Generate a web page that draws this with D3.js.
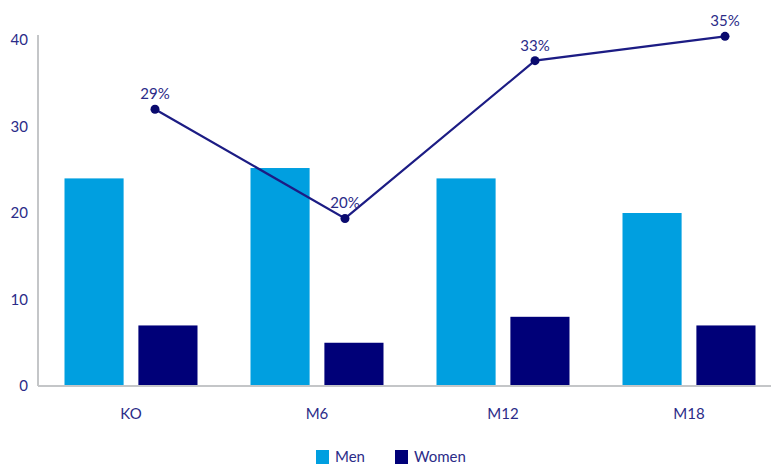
<!DOCTYPE html>
<html><head><meta charset="utf-8">
<script src="https://cdn.jsdelivr.net/npm/d3@7"></script>
<style>body{margin:0;background:#fff;}svg{display:block;font-family:Lato,"Open Sans",sans-serif;}</style>
</head><body><svg id="c" width="771" height="467"></svg>
<script>
const categories = ["KO", "M6", "M12", "M18"];
const menValues = [24, 25.2, 24, 20];
const womenValues = [7, 5, 8, 7];
const pctValues = [29, 20, 33, 35];
const yTicks = [0, 10, 20, 30, 40];
const seriesNames = ["Men", "Women"];
const colors = {Men: "#009fe0", Women: "#000078"};
const textColor = "#2b2b88";

const svg = d3.select("#c");
const x = d3.scaleBand().domain(categories).range([38, 782]).paddingInner(0).paddingOuter(0);
const xs = d3.scaleBand().domain(seriesNames).range([26.5, 186 - 26.5]).paddingInner(0.2);
const y = d3.scaleLinear().domain([0, 40]).range([386, 40]);
const y2 = d3.scaleLinear().domain([6.2, 34.7]).range([386, 40]);
const xl = d3.scaleBand().domain(categories).range([60, 820]);

const data = categories.map((c, i) => ({c, Men: menValues[i], Women: womenValues[i], pct: pctValues[i]}));

// bars
const g = svg.append("g");
data.forEach(d => {
  seriesNames.forEach(s => {
    g.append("rect")
      .attr("x", x(d.c) + xs(s))
      .attr("y", y(d[s]))
      .attr("width", xs.bandwidth())
      .attr("height", y(0) - y(d[s]))
      .attr("fill", colors[s]);
  });
});

// axes
svg.append("line").attr("x1", 38).attr("x2", 38).attr("y1", 35).attr("y2", y(0))
  .attr("stroke", "#c4c6c8").attr("stroke-width", 2);
svg.append("line").attr("x1", 38).attr("x2", 771).attr("y1", y(0)).attr("y2", y(0))
  .attr("stroke", "#c4c6c8").attr("stroke-width", 2);

const yAxis = svg.append("g").attr("transform", "translate(38,0)")
  .call(d3.axisLeft(y).tickValues(yTicks).tickSize(0).tickPadding(10));
yAxis.select(".domain").remove();
yAxis.selectAll("text").attr("fill", textColor).style("font-size", "15px").style("font-family", "Lato,sans-serif");

const xAxis = svg.append("g").attr("transform", "translate(0," + y(0) + ")")
  .call(d3.axisBottom(x).tickSize(0).tickPadding(22));
xAxis.select(".domain").remove();
xAxis.selectAll("text").attr("fill", textColor).style("font-size", "15px").style("font-family", "Lato,sans-serif");

// line
const line = d3.line().x(d => xl(d.c) + xl.bandwidth() / 2).y(d => y2(d.pct));
svg.append("path").datum(data).attr("d", line).attr("fill", "none")
  .attr("stroke", "#1c1c84").attr("stroke-width", 2.2);
svg.selectAll(".pt").data(data).enter().append("circle")
  .attr("cx", d => xl(d.c) + xl.bandwidth() / 2).attr("cy", d => y2(d.pct))
  .attr("r", 4.5).attr("fill", "#0a0a6e");
svg.selectAll(".lbl").data(data).enter().append("text")
  .attr("x", d => xl(d.c) + xl.bandwidth() / 2).attr("y", d => y2(d.pct) - 10)
  .attr("text-anchor", "middle").attr("fill", textColor)
  .style("font-size", "15px").text(d => d.pct + "%");

// legend
const lg = svg.append("g");
const legendX = [316, 395];
seriesNames.forEach((s, i) => {
  lg.append("rect").attr("x", legendX[i]).attr("y", 450).attr("width", 13).attr("height", 14).attr("fill", colors[s]);
  lg.append("text").attr("x", legendX[i] + 19).attr("y", 462).attr("fill", textColor)
    .style("font-size", "15px").text(s);
});
</script></body></html>
